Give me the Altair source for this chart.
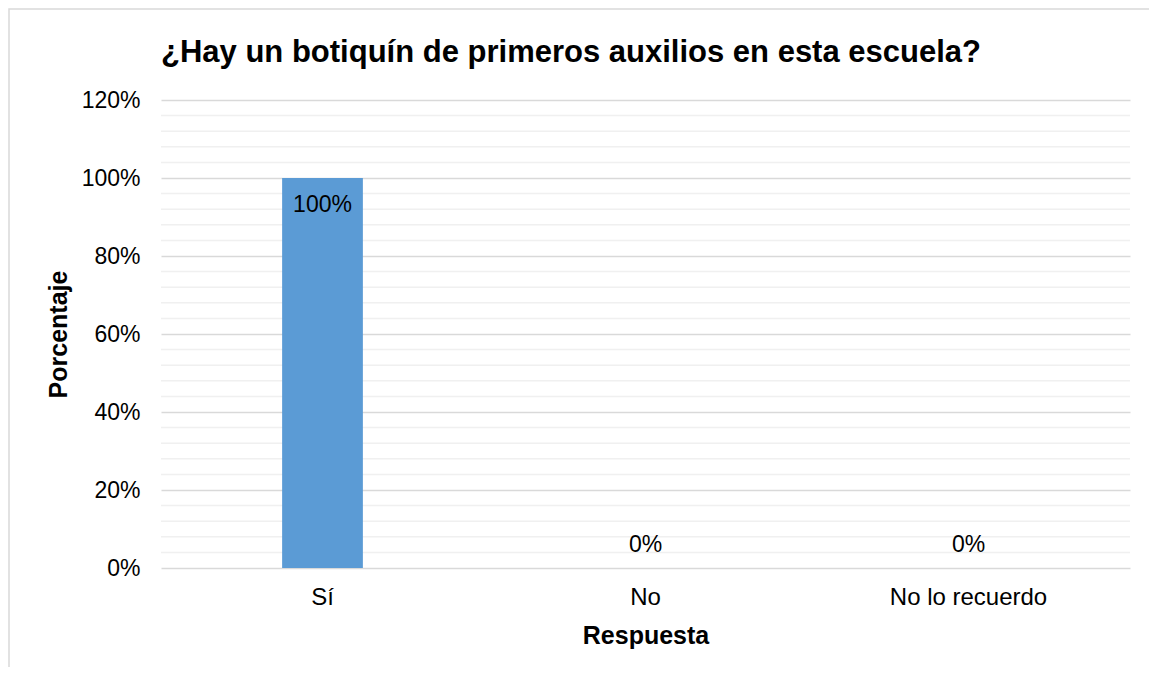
import altair as alt
import pandas as pd

categorias = ["Sí", "No", "No lo recuerdo"]
porcentajes = [1.00, 0.00, 0.00]
ticks_principales = [0, 0.2, 0.4, 0.6, 0.8, 1.0, 1.2]
ticks_menores = [0.04, 0.08, 0.12, 0.16, 0.24, 0.28, 0.32, 0.36, 0.44, 0.48,
                 0.52, 0.56, 0.64, 0.68, 0.72, 0.76, 0.84, 0.88, 0.92, 0.96,
                 1.04, 1.08, 1.12, 1.16]
titulo = "¿Hay un botiquín de primeros auxilios en esta escuela?"

df = pd.DataFrame({"Respuesta": categorias, "Porcentaje": porcentajes})
minor_df = pd.DataFrame({"Porcentaje": ticks_menores})

W, H = 969, 468
FONT = "Liberation Sans"
FS = 23

y_scale = alt.Scale(domain=[0, 1.2], nice=False, zero=True)
y_axis = alt.Axis(
    title="Porcentaje", values=ticks_principales, format=".0%",
    labelFontSize=FS, labelFont=FONT, labelColor="#000000",
    labelPadding=21, ticks=False, domain=False,
    gridColor="#d9d9d9", gridWidth=1.5,
    titleFontSize=25, titleFont=FONT, titleFontWeight="bold",
    titleColor="#000000", titlePadding=10,
)
x_enc = alt.X(
    "Respuesta:N",
    sort=categorias,
    scale=alt.Scale(paddingInner=0.75, paddingOuter=0.375),
    axis=alt.Axis(
        title="Respuesta", labelAngle=0, labelFontSize=24, labelFont=FONT,
        labelColor="#000000", labelPadding=17, ticks=False, domain=False,
        titleFontSize=25, titleFont=FONT, titleFontWeight="bold",
        titleColor="#000000", titlePadding=14, grid=False,
    ),
)

minor = alt.Chart(minor_df).mark_rule(color="#f0f0f0", strokeWidth=1.5).encode(
    y=alt.Y("Porcentaje:Q", scale=y_scale, axis=y_axis)
)

bars = alt.Chart(df).mark_bar(color="#5B9BD5").encode(
    x=x_enc,
    y=alt.Y("Porcentaje:Q", scale=y_scale, axis=y_axis),
)

lab_pos = alt.Chart(df).transform_filter("datum.Porcentaje > 0").mark_text(
    fontSize=FS, font=FONT, color="#000000", baseline="middle", dy=27
).encode(
    x=alt.X("Respuesta:N", sort=categorias),
    y=alt.Y("Porcentaje:Q", scale=y_scale),
    text=alt.Text("Porcentaje:Q", format=".0%"),
)

lab_zero = alt.Chart(df).transform_filter("datum.Porcentaje <= 0").mark_text(
    fontSize=FS, font=FONT, color="#000000", baseline="middle", dy=-23
).encode(
    x=alt.X("Respuesta:N", sort=categorias),
    y=alt.Y("Porcentaje:Q", scale=y_scale),
    text=alt.Text("Porcentaje:Q", format=".0%"),
)

title_mark = alt.Chart(alt.Data(values=[{"t": titulo}])).mark_text(
    fontSize=31, font=FONT, fontWeight="bold", color="#000000",
    align="left", baseline="alphabetic"
).encode(
    x=alt.value(0), y=alt.value(-38), text="t:N"
)

border = alt.Chart(alt.Data(values=[{"a": 1}])).mark_rect(
    fill="transparent", stroke="#d9d9d9", strokeWidth=1.5
).encode(
    x=alt.value(-152), x2=alt.value(W + 60),
    y=alt.value(-91), y2=alt.value(H + 200),
)

chart = alt.layer(minor, bars, lab_pos, lab_zero, title_mark, border).properties(
    width=W, height=H,
    autosize=alt.AutoSizeParams(type="none"),
    padding={"left": 153, "top": 92, "right": 19, "bottom": 99},
    background="white",
).configure_view(strokeWidth=0)

chart.save("out.html", embed_options={"renderer": "svg", "actions": False})
